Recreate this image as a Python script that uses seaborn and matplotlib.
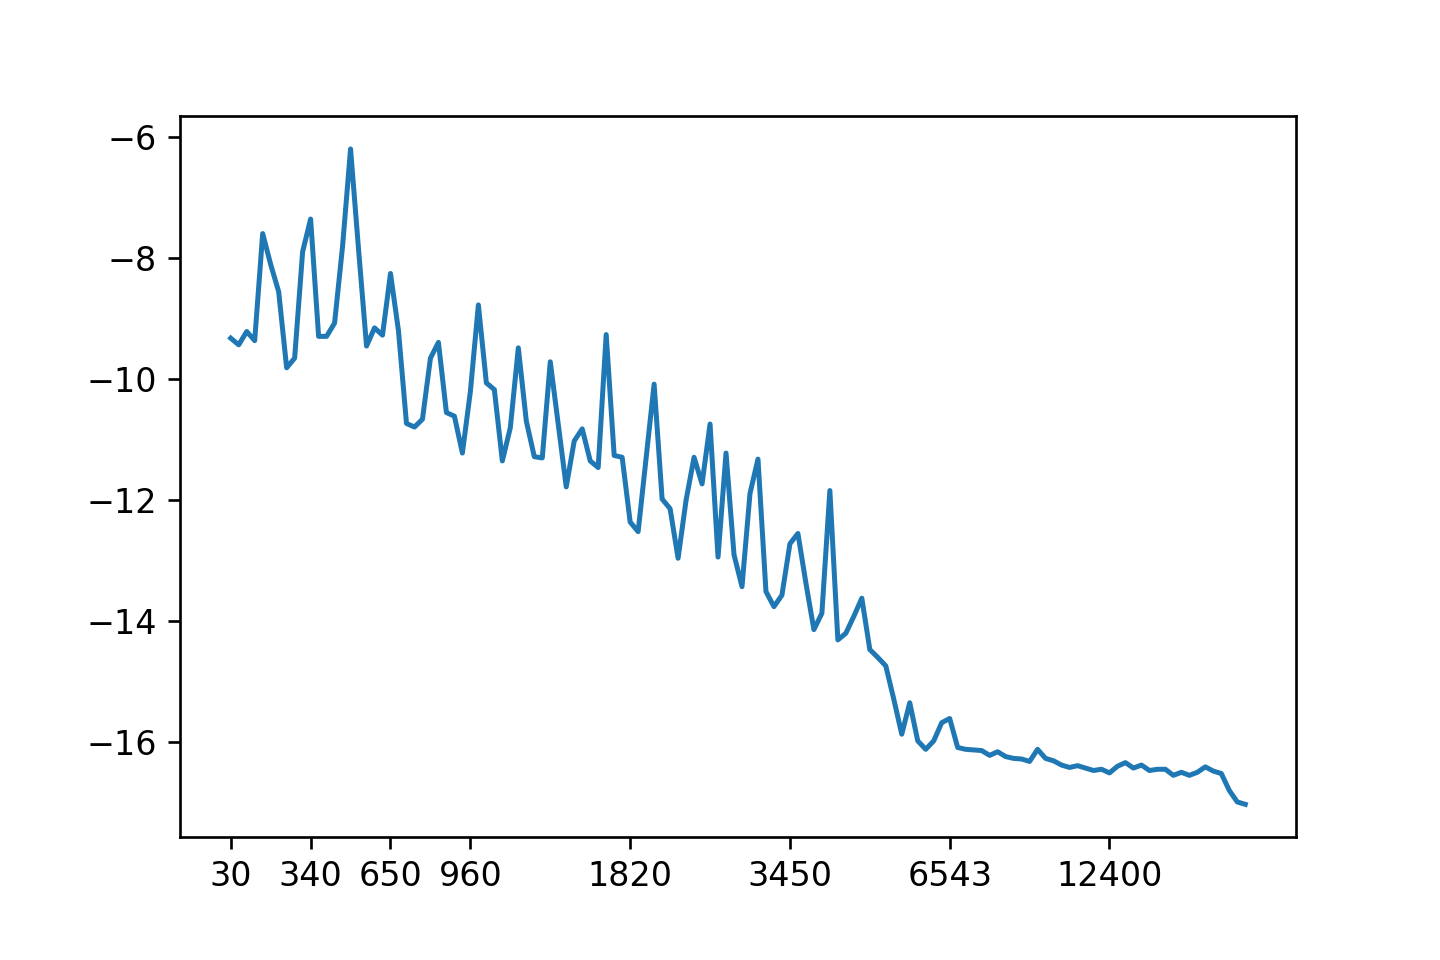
import numpy as np
import pandas as pd
import matplotlib
matplotlib.use("Agg")
import matplotlib.pyplot as plt
import seaborn as sns

# values, one per step
values = [
    -9.32, -9.43, -9.21, -9.36, -7.59, -8.10, -8.55, -9.81, -9.65, -7.89,
    -7.35, -9.29, -9.29, -9.07, -7.80, -6.19, -7.85, -9.45, -9.15, -9.27,
    -8.25, -9.20, -10.73, -10.79, -10.66, -9.65, -9.39, -10.55, -10.61, -11.22,
    -10.20, -8.77, -10.06, -10.17, -11.35, -10.80, -9.48, -10.69, -11.28, -11.30,
    -9.71, -10.75, -11.78, -11.02, -10.82, -11.35, -11.46, -9.26, -11.26, -11.29,
    -12.36, -12.52, -11.30, -10.08, -11.98, -12.14, -12.96, -12.00, -11.29, -11.73,
    -10.74, -12.94, -11.22, -12.90, -13.43, -11.89, -11.32, -13.51, -13.76, -13.57,
    -12.72, -12.55, -13.37, -14.14, -13.87, -11.84, -14.31, -14.20, -13.92, -13.62,
    -14.47, -14.60, -14.74, -15.29, -15.87, -15.35, -15.98, -16.12, -15.98, -15.68,
    -15.61, -16.09, -16.12, -16.13, -16.14, -16.22, -16.16, -16.24, -16.27, -16.28,
    -16.32, -16.12, -16.27, -16.31, -16.38, -16.42, -16.39, -16.43, -16.47, -16.45,
    -16.51, -16.40, -16.34, -16.43, -16.38, -16.47, -16.45, -16.45, -16.55, -16.50,
    -16.55, -16.50, -16.41, -16.48, -16.52, -16.80, -16.99, -17.03,
]

# x tick labels and the step index where each one sits
tick_index = [0, 10, 20, 30, 50, 70, 90, 110]
tick_labels = ['30', '340', '650', '960', '1820', '3450', '6543', '12400']
y_ticks = [-16, -14, -12, -10, -8, -6]

df = pd.DataFrame({'step': np.arange(len(values)), 'value': values})

fig, ax = plt.subplots(figsize=(6, 4), dpi=240)
fig.subplots_adjust(left=0.125, right=0.9, top=0.879, bottom=0.128)

sns.lineplot(data=df, x='step', y='value', color='#1f77b4', linewidth=1.5, ax=ax)

ax.set_xticks(tick_index)
ax.set_xticklabels(tick_labels)
ax.set_yticks(y_ticks)
ax.set_xlabel('')
ax.set_ylabel('')

plt.savefig('out.png', dpi=240)
